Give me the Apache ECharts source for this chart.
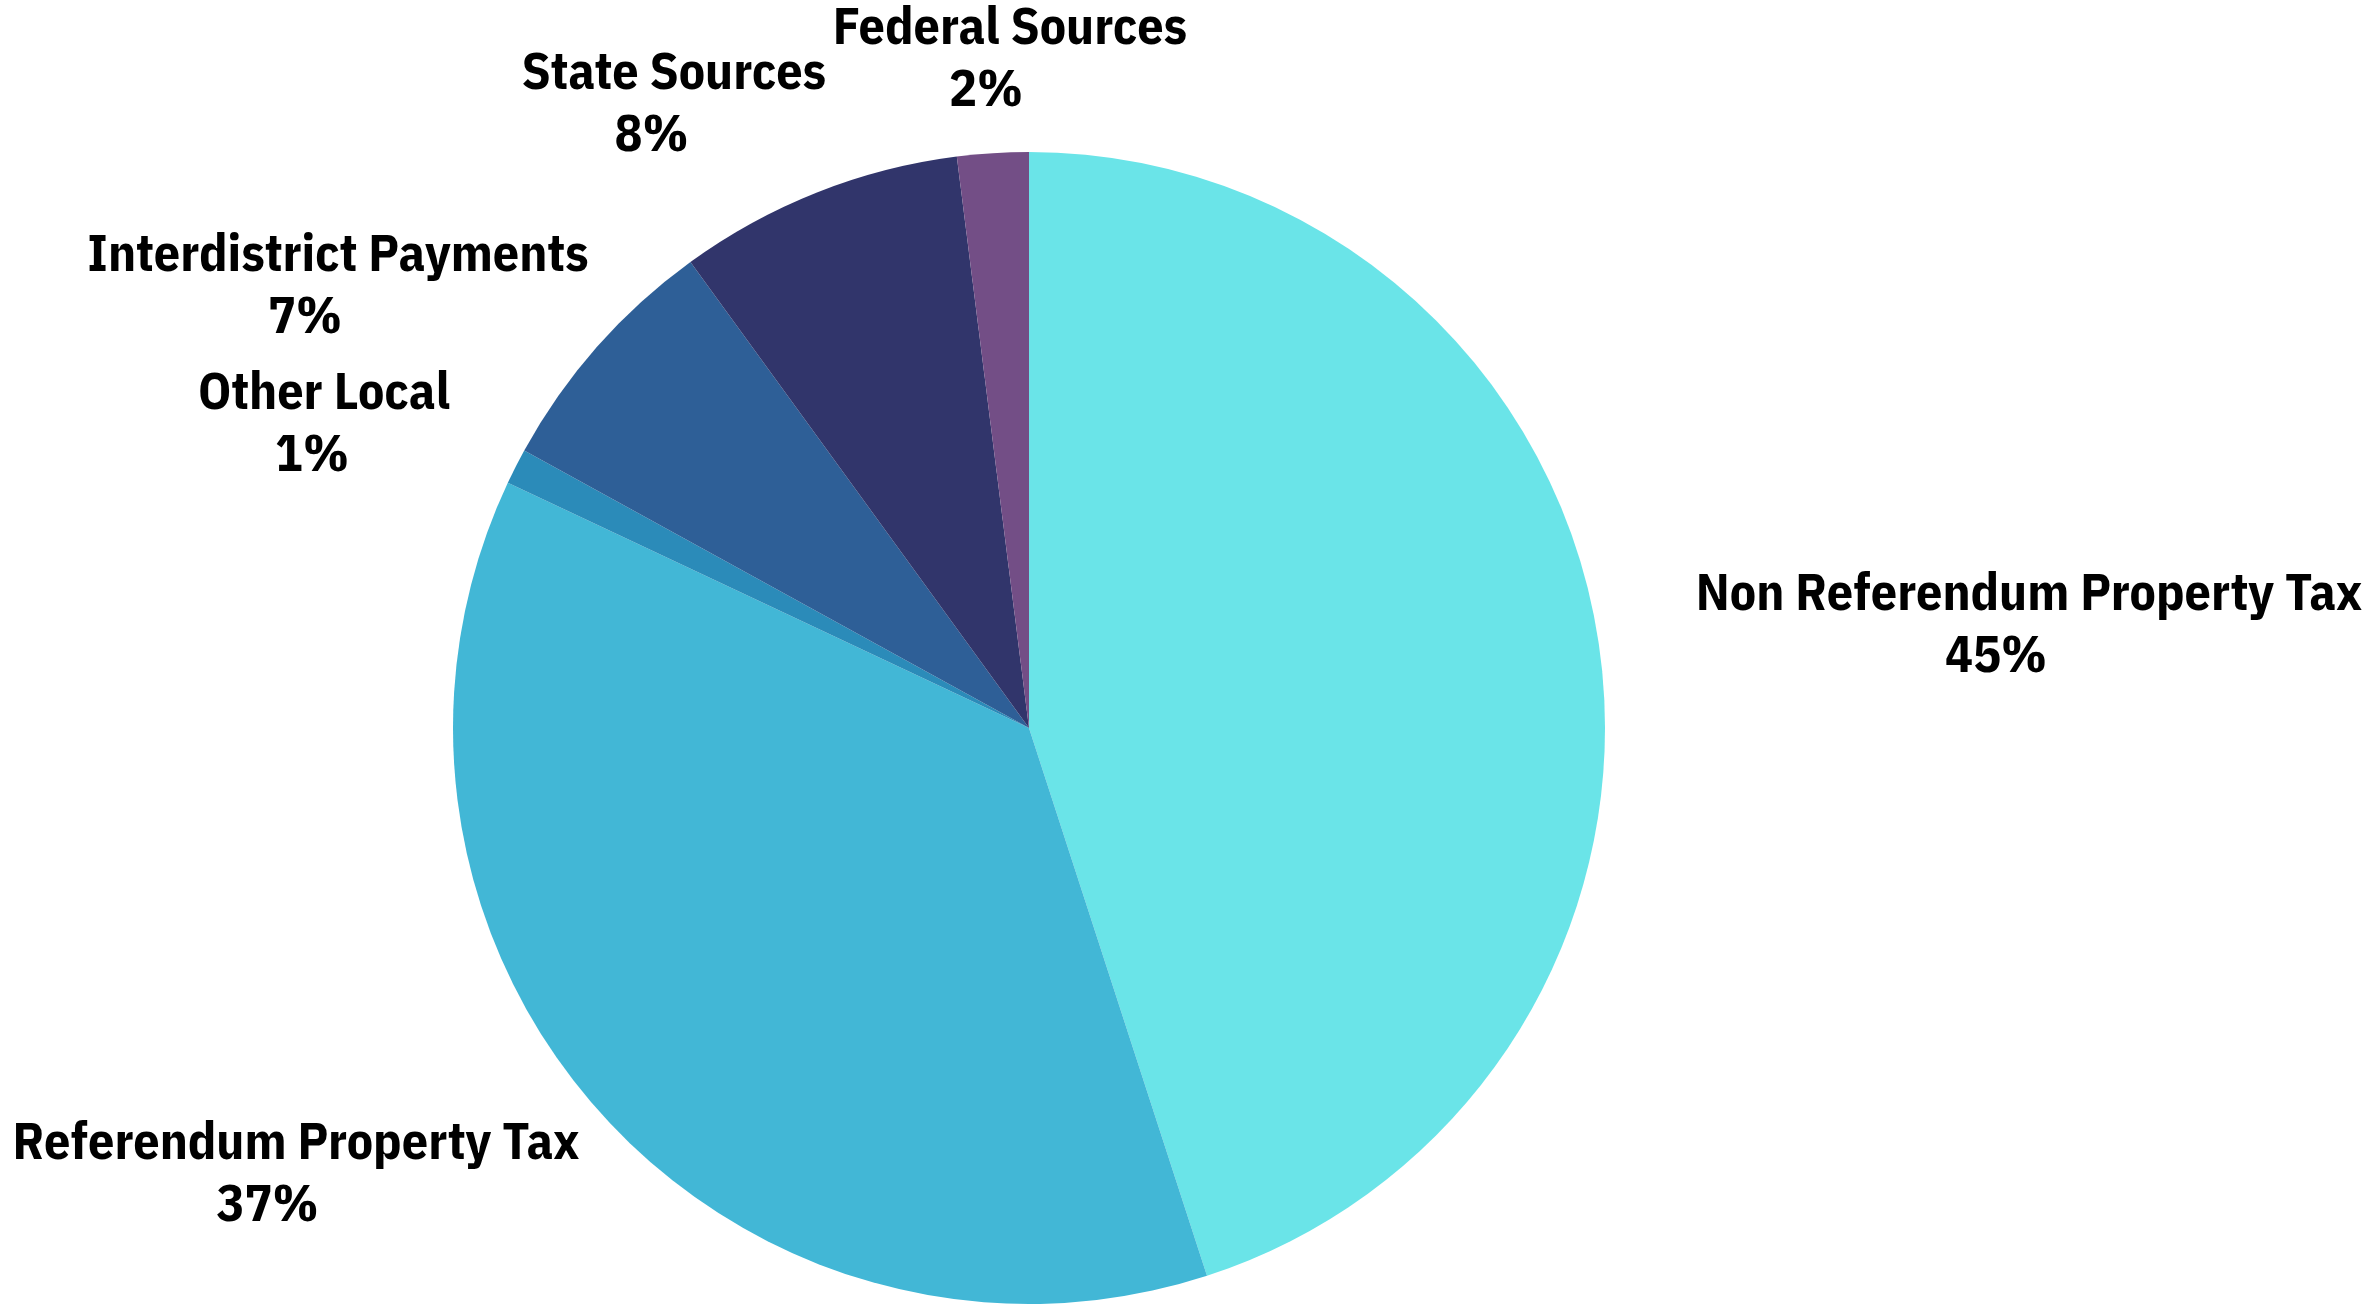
<!DOCTYPE html>
<html><head><meta charset="utf-8">
<script src="https://cdn.jsdelivr.net/npm/echarts@6/dist/echarts.min.js"></script>
<style>html,body{margin:0;padding:0;background:#fff}#chart{width:2369px;height:1308px}</style>
</head>
<body>
<div id="chart"></div>
<script>
// Revenue sources, share of total (%), clockwise from 12 o'clock
const categories = [
  'Non Referendum Property Tax',
  'Referendum Property Tax',
  'Other Local',
  'Interdistrict Payments',
  'State Sources',
  'Federal Sources'
];
const shares = [45, 37, 1, 7, 8, 2];
const sliceColors = ['#6ae4e8', '#42b7d6', '#2b8bb9', '#2e5f97', '#31356b', '#734e86'];
// Centre of each two-line label block, in pixels
const labelAnchors = [
  [2029, 626],
  [296, 1175],
  [324, 425],
  [338, 287],
  [674, 105],
  [1010, 60]
];
// Right padding on the percentage line (nudges it left of the name's centre)
const percentPad = [66, 57, 24, 66, 45, 48];

const chart = echarts.init(document.getElementById('chart'), null, { renderer: 'canvas' });

const font = '"IBM Plex Sans Condensed", "Roboto Condensed", sans-serif';
const rich = { n: { fontFamily: font, fontWeight: 'bold', fontSize: 52, lineHeight: 62, color: '#000', align: 'center' } };
percentPad.forEach((pad, i) => {
  rich['p' + i] = {
    fontFamily: font, fontWeight: 'bold', fontSize: 52, lineHeight: 62,
    color: '#000', align: 'center', padding: [0, pad, 0, 0]
  };
});

chart.setOption({
  backgroundColor: '#ffffff',
  animation: false,
  series: [{
    type: 'pie',
    center: [1029, 728],
    radius: 576,
    startAngle: 90,
    clockwise: true,
    avoidLabelOverlap: false,
    itemStyle: { borderWidth: 0 },
    emphasis: { disabled: true },
    label: {
      show: true,
      position: 'outside',
      formatter: p => '{n|' + p.name + '}\n{p' + p.dataIndex + '|' + p.value + '%}',
      rich
    },
    labelLine: { show: false },
    labelLayout: params => ({
      x: labelAnchors[params.dataIndex][0],
      y: labelAnchors[params.dataIndex][1],
      align: 'center',
      verticalAlign: 'middle'
    }),
    data: categories.map((name, i) => ({
      name,
      value: shares[i],
      itemStyle: { color: sliceColors[i] }
    }))
  }]
});
</script>
</body></html>
